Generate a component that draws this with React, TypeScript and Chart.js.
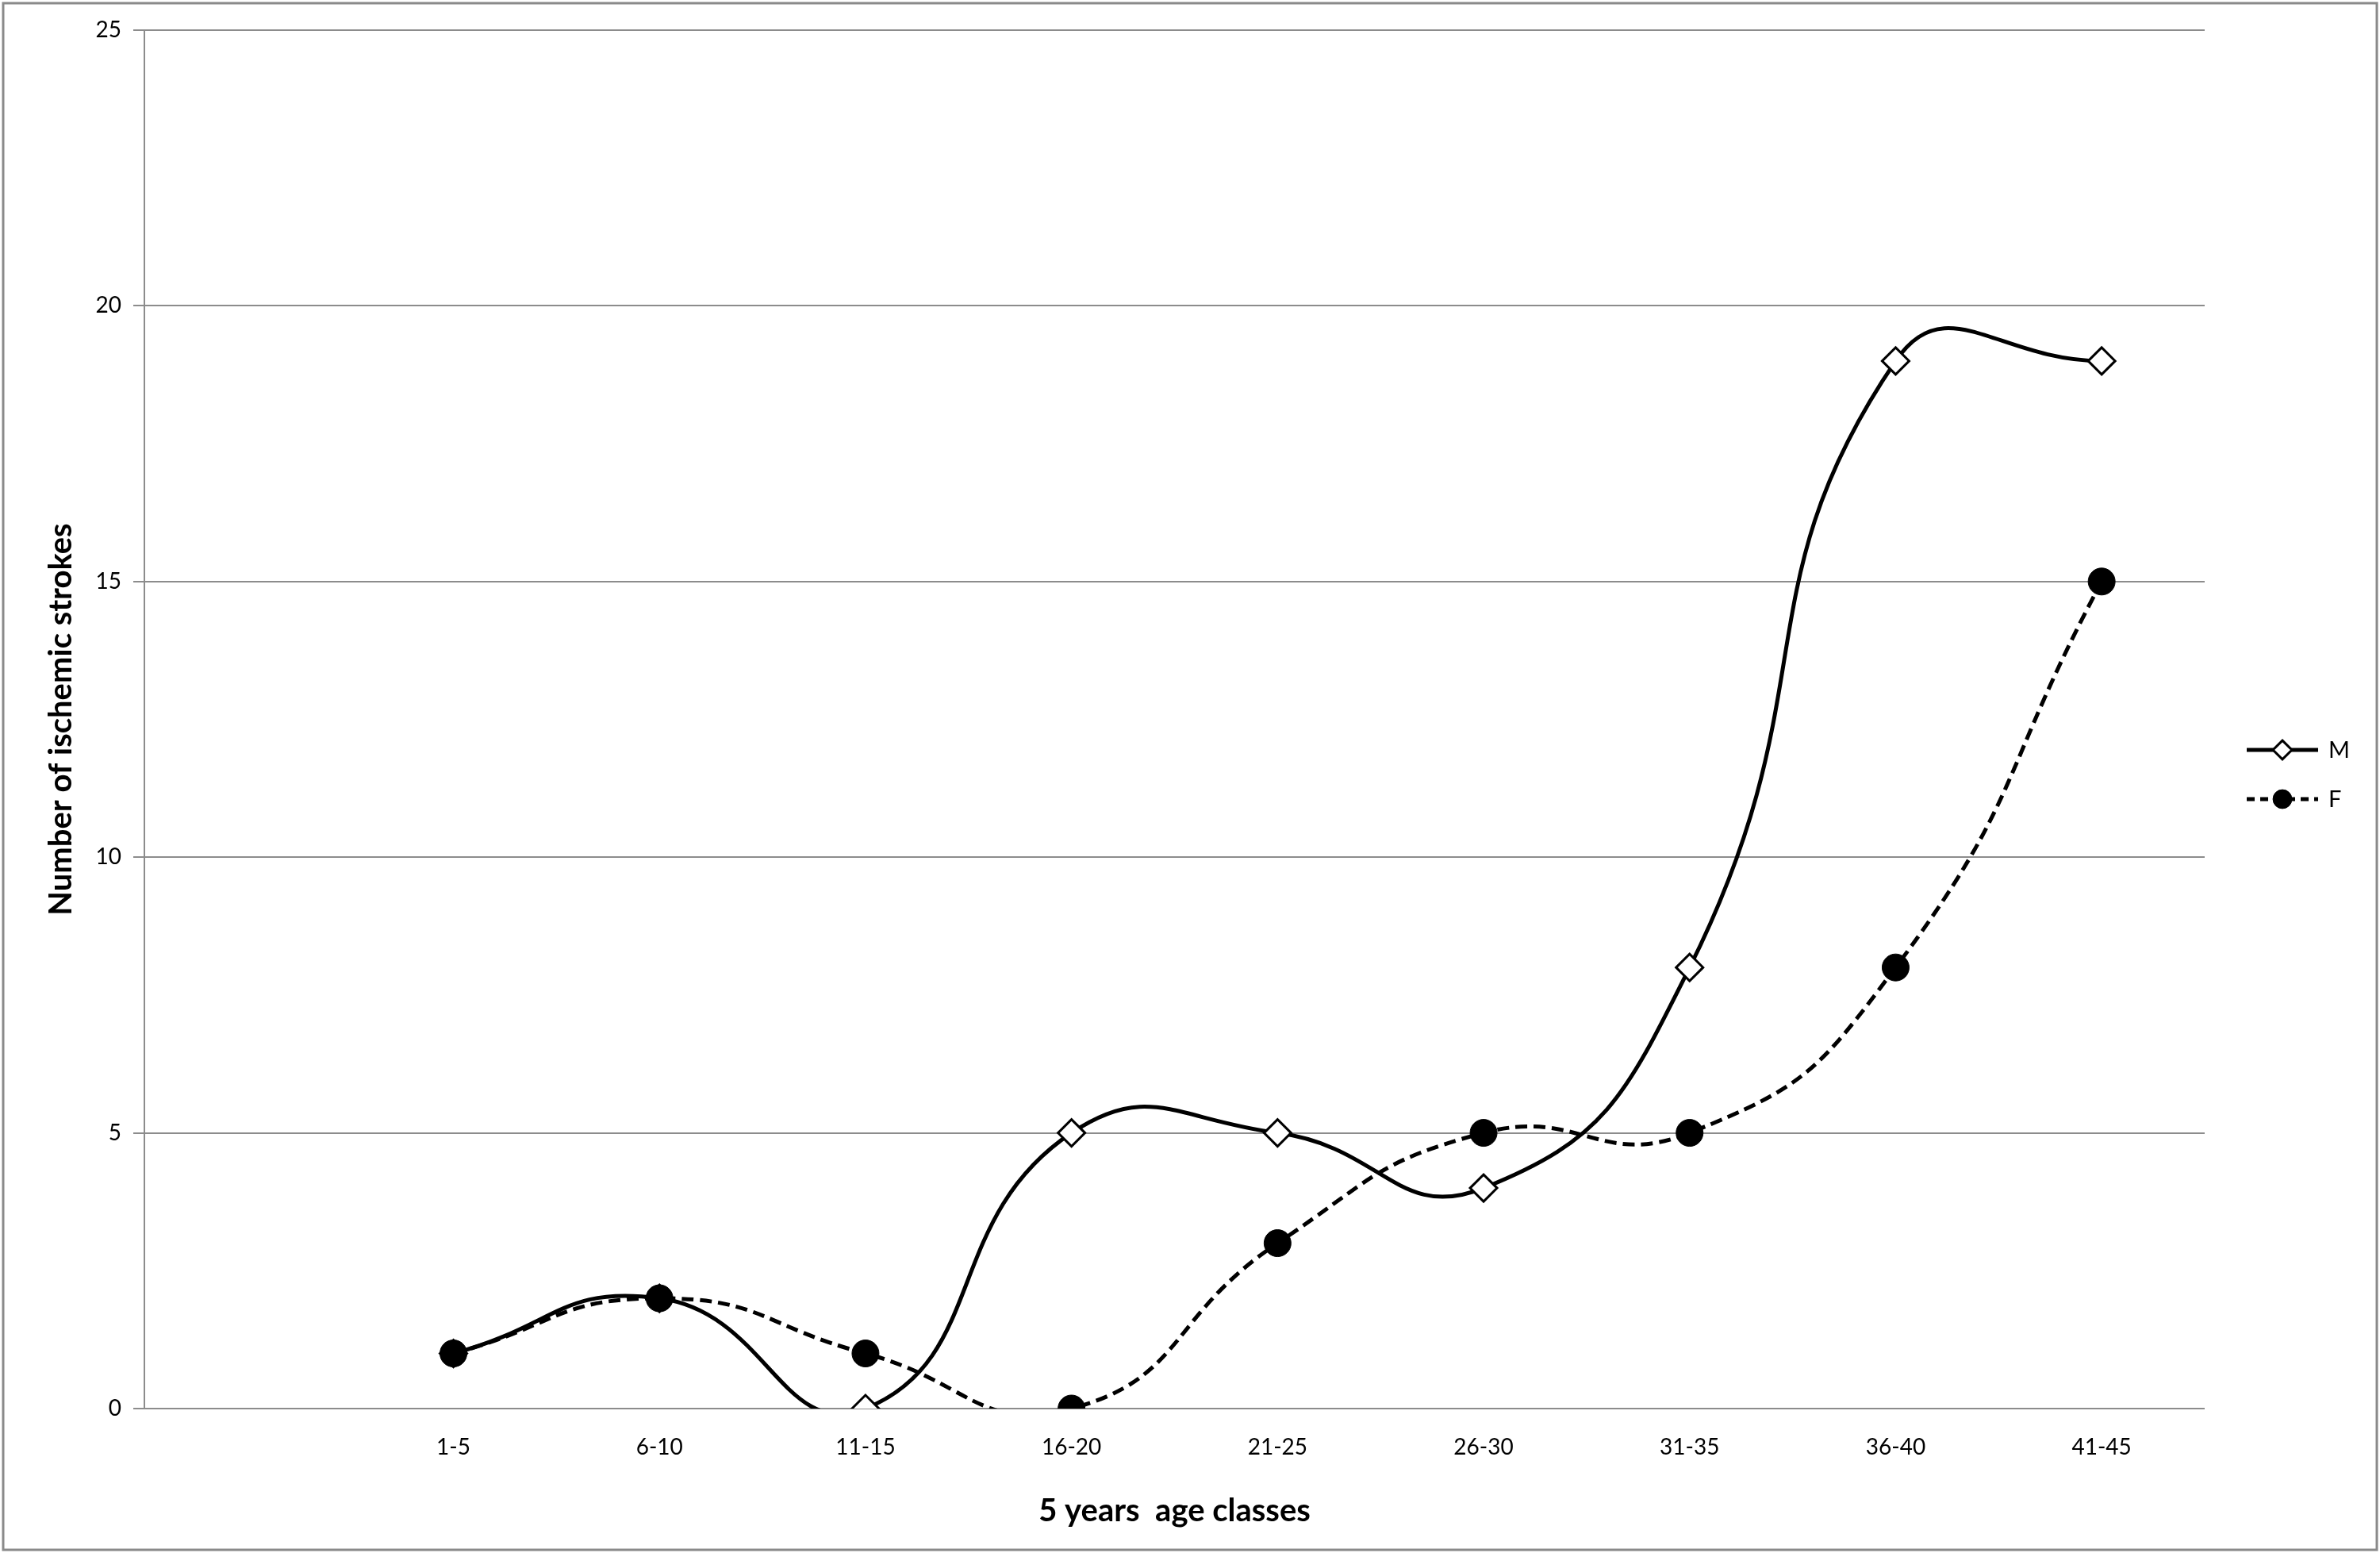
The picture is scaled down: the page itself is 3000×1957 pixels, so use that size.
import React, { useEffect, useRef } from 'react';
import { Chart, registerables } from 'chart.js';

Chart.register(...registerables);

// first category is left empty, as in the original sheet
const ageClasses = ['', '1-5', '6-10', '11-15', '16-20', '21-25', '26-30', '31-35', '36-40', '41-45'];
const maleStrokes = [null, 1, 2, 0, 5, 5, 4, 8, 19, 19];
const femaleStrokes = [null, 1, 2, 1, 0, 3, 5, 5, 8, 15];
const yTicks = [0, 5, 10, 15, 20, 25];

const FONT = 'Lato, "Open Sans", sans-serif';
const GRID = '#8c8c8c';

const framePlugin = {
  id: 'frame',
  beforeDraw(chart: any) {
    const { ctx, width, height } = chart;
    ctx.save();
    ctx.fillStyle = '#fff';
    ctx.fillRect(0, 0, width, height);
    ctx.strokeStyle = '#8a8a8a';
    ctx.lineWidth = 3;
    ctx.strokeRect(4, 4, width - 8, height - 8);
    ctx.restore();
  },
};

// line + marker legend, like the spreadsheet one
const lineLegendPlugin = {
  id: 'lineLegend',
  afterDraw(chart: any) {
    const { ctx } = chart;
    const x0 = 2832, x1 = 2922, xm = 2877, xt = 2935;
    chart.data.datasets.forEach((ds: any, i: number) => {
      const y = 945 + i * 62;
      ctx.save();
      ctx.strokeStyle = '#000';
      ctx.lineWidth = ds.borderWidth;
      ctx.setLineDash(ds.borderDash ? [10, 7] : []);
      ctx.beginPath();
      ctx.moveTo(x0, y);
      ctx.lineTo(x1, y);
      ctx.stroke();
      ctx.setLineDash([]);
      const r = ds.pointRadius * 0.7;
      ctx.beginPath();
      if (ds.pointStyle === 'rectRot') {
        ctx.moveTo(xm, y - r);
        ctx.lineTo(xm + r, y);
        ctx.lineTo(xm, y + r);
        ctx.lineTo(xm - r, y);
        ctx.closePath();
      } else {
        ctx.arc(xm, y, r, 0, Math.PI * 2);
      }
      ctx.fillStyle = ds.pointBackgroundColor;
      ctx.fill();
      ctx.lineWidth = ds.pointBorderWidth;
      ctx.strokeStyle = '#000';
      ctx.stroke();
      ctx.fillStyle = '#000';
      ctx.font = `29px ${FONT}`;
      ctx.textBaseline = 'middle';
      ctx.fillText(ds.label, xt, y + 1);
      ctx.restore();
    });
  },
};

export default function App() {
  const canvasRef = useRef<HTMLCanvasElement | null>(null);

  useEffect(() => {
    document.body.style.margin = '0';
    if (!canvasRef.current) return;
    const chart = new Chart(canvasRef.current, {
      type: 'line',
      data: {
        labels: ageClasses,
        datasets: [
          {
            label: 'M',
            data: maleStrokes,
            order: 2,
            borderColor: '#000',
            borderWidth: 5,
            tension: 0.5,
            pointStyle: 'rectRot',
            pointRadius: 17,
            pointBackgroundColor: '#fff',
            pointBorderColor: '#000',
            pointBorderWidth: 3,
          },
          {
            label: 'F',
            data: femaleStrokes,
            order: 1,
            borderColor: '#000',
            borderWidth: 5,
            borderDash: [15, 8],
            tension: 0.5,
            pointStyle: 'circle',
            pointRadius: 17,
            pointBackgroundColor: '#000',
            pointBorderColor: '#000',
            pointBorderWidth: 1,
          },
        ],
      },
      options: {
        responsive: false,
        devicePixelRatio: 1,
        animation: false,
        layout: { padding: { left: 10, right: 221, top: 38, bottom: 10 } },
        elements: { line: { capBezierPoints: false } },
        plugins: {
          legend: { display: false },
          tooltip: { enabled: false },
        },
        scales: {
          x: {
            type: 'category',
            offset: true,
            grid: { display: false, drawTicks: false },
            border: { display: false },
            ticks: {
              color: '#000',
              font: { family: FONT, size: 28 },
              padding: 32,
              autoSkip: false,
              maxRotation: 0,
            },
            title: {
              display: true,
              text: '5 years  age classes',
              color: '#000',
              font: { family: FONT, size: 40, weight: 'bold' },
              padding: { top: 0, bottom: 19 },
            },
            afterFit(scale: any) {
              scale.height = 172;
            },
          },
          y: {
            min: 0,
            max: 25,
            afterBuildTicks(scale: any) {
              scale.ticks = yTicks.map((v) => ({ value: v }));
            },
            grid: { color: GRID, lineWidth: 2, tickLength: 14 },
            border: { display: true, color: GRID, width: 2 },
            ticks: {
              color: '#000',
              font: { family: FONT, size: 28 },
              padding: 15,
            },
            title: {
              display: true,
              text: 'Number of ischemic strokes',
              color: '#000',
              font: { family: FONT, size: 40, weight: 'bold' },
              padding: { top: 43, bottom: 0 },
            },
            afterFit(scale: any) {
              scale.width = 172;
            },
          },
        },
      },
      plugins: [framePlugin, lineLegendPlugin],
    } as any);
    return () => {
      chart.destroy();
    };
  }, []);

  return <canvas ref={canvasRef} width={3000} height={1957} style={{ display: 'block' }} />;
}
